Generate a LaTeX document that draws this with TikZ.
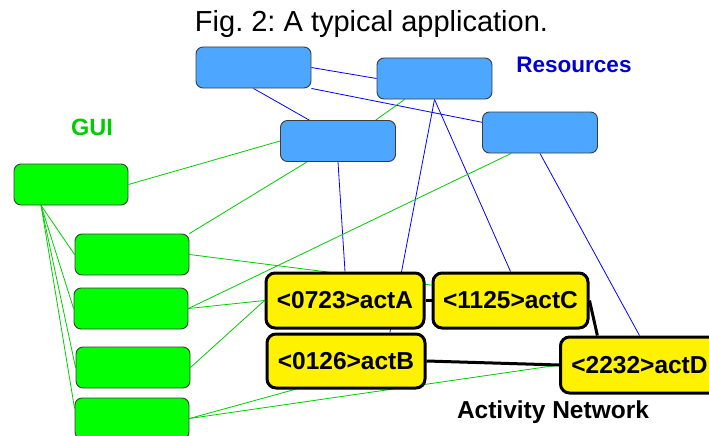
\documentclass[tikz,border=0pt]{standalone}
\usepackage{fontspec}
\setmainfont{Liberation Sans}
\usepackage{tikz}
\usetikzlibrary{positioning}
\usetikzlibrary{backgrounds}

\definecolor{resblue}{RGB}{77,166,255}
\definecolor{guigreen}{RGB}{0,255,0}
\definecolor{lgreen}{RGB}{0,205,0}
\definecolor{lblue}{RGB}{0,0,255}
\definecolor{txtblue}{RGB}{0,0,210}
\definecolor{bordergray}{RGB}{60,60,60}

\frenchspacing
\begin{document}
\begin{tikzpicture}[
    % GLOBAL CFG
    x=1pt, y=-1pt,
    font=\bfseries\fontsize{24.5}{28}\selectfont,
    % Styles
    resbox/.style={% For the resources
        rectangle,
        rounded corners=7pt,
        draw=bordergray,
        line width=0.9pt,
        fill=resblue,
        minimum width=115pt,
        minimum height=41pt,
        },
    guibox/.style={% For the GUI parts
        resbox,
        fill=guigreen,
        minimum width=114pt,
        },
    actbox/.style={% For the activities
        rectangle,
        rounded corners=9pt,
        draw,
        line width=3pt,
        fill=yellow,
        minimum width=158pt,
        minimum height=55pt,
        inner sep=0pt,
        },
    LineB/.style={% Blue links
        draw=lblue,
        line width=0.8pt,
        },
    LineG/.style={% Green links
        draw=lgreen,
        line width=0.8pt,
        },
    LinkA/.style={% Links of the activity network
        line width=3pt,
        }
    ]

    \useasboundingbox (0,0) rectangle (709,436);

%Start drawing the thing...
    % Title
    \node [anchor=base, font=\fontsize{29}{32}\selectfont] (title) at (371.5,32) {Fig. 2: A typical application.};

    % Draw resources named res#
    \node [resbox] (res1) at (253.5,67.5) {};
    \node [resbox] (res2) at (434.5,78.5) {};
    \node [resbox] (res3) at (338,141) {};
    \node [resbox] (res4) at (540,132.5) {};

    % Draw GUI parts named gui#
    \node [guibox] (gui0) at (71,184.5) {};
    \node [guibox] (gui1) at (132,254.5) {};
    \node [guibox] (gui2) at (131,308.5) {};
    \node [guibox] (gui3) at (133,367.5) {};
    \node [guibox] (gui4) at (132,418.5) {};

    % Draw activities
    \node [actbox] (actA) at (345,300.5) {<0723>actA};
    \node [actbox, minimum width=155pt] (actC) at (510.5,300.5) {<1125>actC};
    \node [actbox, minimum height=54pt] (actB) at (346,361) {<0126>actB};
    \node [actbox, minimum height=56pt] (actD) at (639.5,365) {<2232>actD};

    % Group labels
    \node [text=txtblue, font=\bfseries\fontsize{22.5}{26}\selectfont] (lres) at (574,65) {Resources};
    \node [text=lgreen, font=\bfseries\fontsize{23.5}{26}\selectfont] (lgui) at (92,127) {GUI};
    \node [anchor=base] (lnet) at (553,418) {Activity Network};

% Start connecting all, behind the boxes.
    \begin{scope}[on background layer]
    % Blue links
    \path [LineB] (res1.east) -- (res2.west);
    \path [LineB] (res1.south east) -- (res4.170);
    \path [LineB] (res1.south) -- (res3.144);
    \path [LineB] (res2.south) -- (actB.33);
    \path [LineB] (res2.south) -- (actC.north);
    \path [LineB] (res3.south) -- (actA.north);
    \path [LineB] (res4.south) -- (actD.north);

    % Green links
    \path [LineG] (res2.215) -- (res3.29);
    \path [LineG] (gui0.east) -- (res3.west);
    \path [LineG] (res3.214) -- (gui1.north east);
    \path [LineG] (res4.216) -- (gui2.east);
    \path [LineG] (gui1.east) -- (actC.169);
    \path [LineG] (gui2.east) -- (actA.west);
    \path [LineG] (gui3.east) -- (actA.west);
    \path [LineG] (gui4.east) -- (actB.209);
    \path [LineG] (gui4.east) -- (actD.west);
    \foreach \g/\a in {gui1/west, gui2/west, gui3/west, gui4/170}
        \path [LineG] (gui0.215) -- (\g.\a);

    % Activity network
    \draw [LinkA] (actA.east) -- (actC.west);
    \draw [LinkA] (actC.east) -- (actD.145);
    \draw [LinkA] (actB.east) -- (actD.west);
    \end{scope}

\end{tikzpicture}
\end{document}
